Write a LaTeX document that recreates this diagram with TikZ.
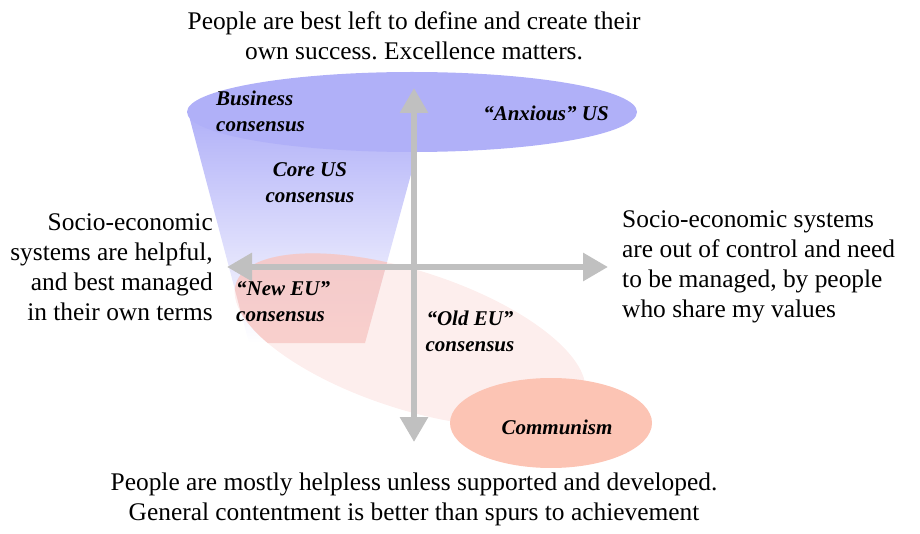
\documentclass[tikz,border=0pt]{standalone}
\usepackage{fontspec}
\setmainfont{Liberation Serif}
\frenchspacing
\usetikzlibrary{arrows.meta}
\definecolor{usblue}{RGB}{176,176,248}
\definecolor{eupink}{RGB}{248,198,194}
\definecolor{commred}{RGB}{252,196,180}
\definecolor{axisgray}{RGB}{192,192,192}

\begin{document}
\begin{tikzpicture}[x=1pt, y=-1pt,
	every node/.style={inner sep=0pt, align=center, font=\fontsize{25.4}{30}\selectfont},
	lbl/.style={font=\fontsize{21}{26}\selectfont\bfseries\itshape},
	axis/.style={line width=6pt, axisgray, {Triangle[length=25pt,width=27pt]}-{Triangle[length=25pt,width=27pt]}}]
	\useasboundingbox (0,0) rectangle (920,534);
	\coordinate (tl) at (188,112);
	\coordinate (tr) at (428,112);
	\coordinate (br) at (365,343);
	\coordinate (bl) at (249,343);
	\coordinate (euc) at (410,340);
	\shade[top color=usblue, bottom color=white] (tl) -- (tr) -- (br) -- (bl) -- cycle;
	\begin{scope}
		\clip (tl) -- (tr) -- (br) -- (bl) -- cycle;
		\fill[eupink, fill opacity=0.75, rotate around={-18:(euc)}] (euc) ellipse [x radius=183, y radius=69];
	\end{scope}
	\fill[eupink, fill opacity=0.3, rotate around={-18:(euc)}] (euc) ellipse [x radius=183, y radius=69];
	\fill[usblue] (412,112) ellipse [x radius=225, y radius=40];
	\fill[commred] (551,423) ellipse [x radius=101, y radius=45];
	\coordinate (top) at (414,88);
	\coordinate (bottom) at (414,442);
	\coordinate (west) at (227,267);
	\coordinate (east) at (608,267);
	\draw[axis] (west) -- (east);
	\draw[axis] (top) -- (bottom);
	\node (up) at (414,36) {People are best left to define and create their\\own success. Excellence matters.};
	\node (down) at (414,499) {People are mostly helpless unless supported and developed.\\General contentment is better than spurs to achievement};
	\node[anchor=east, align=right] (left) at (213,267) {Socio-economic\\systems are helpful,\\and best managed\\in their own terms};
	\node[anchor=west, align=left] (right) at (622,267) {Socio-economic systems\\are out of control and need\\to be managed, by people\\who share my values};
	\node[lbl, anchor=west, align=left] (business) at (216,111) {Business\\consensus};
	\node[lbl] (anxious) at (546,113) {``Anxious'' US};
	\node[lbl] (coreus) at (310,183) {Core US\\consensus};
	\node[lbl, anchor=west, align=left] (neweu) at (236,302) {``New EU''\\consensus};
	\node[lbl] (oldeu) at (470,331) {``Old EU''\\consensus};
	\node[lbl] (communism) at (557,427) {Communism};
\end{tikzpicture}
\end{document}
